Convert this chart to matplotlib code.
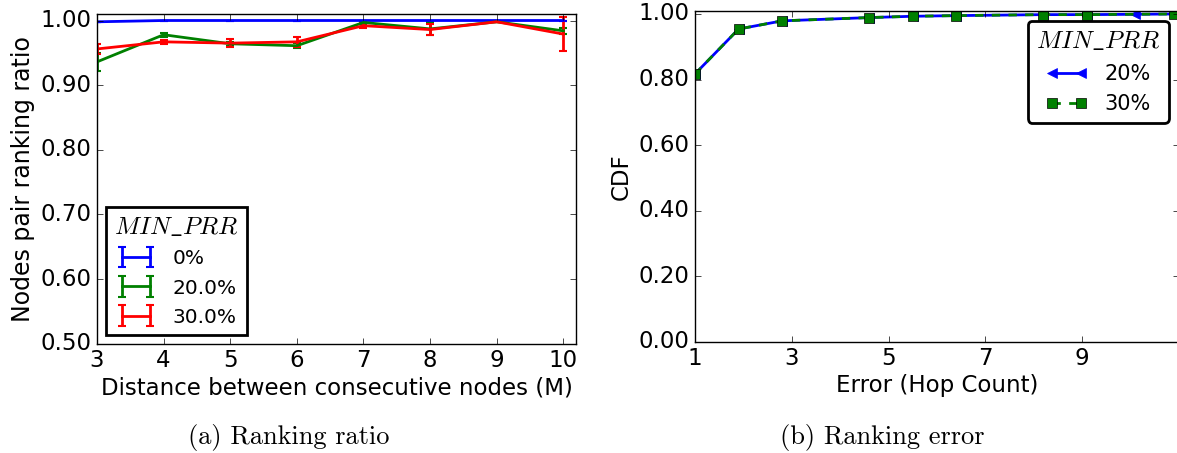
import matplotlib
matplotlib.use('Agg')
import matplotlib.pyplot as plt
import numpy as np

# donnees

# (a) ratio de classement
distance = [3, 4, 5, 6, 7, 8, 9, 10]
ratio_0 = [0.998, 1.0, 1.0, 1.0, 1.0, 1.0, 1.0, 1.0]
err_0 = [0.0, 0.0, 0.0, 0.0, 0.0, 0.0, 0.0, 0.0]
ratio_20 = [0.936, 0.978, 0.964, 0.961, 0.997, 0.987, 0.998, 0.984]
err_20 = [0.014, 0.003, 0.003, 0.004, 0.002, 0.010, 0.001, 0.005]
ratio_30 = [0.956, 0.967, 0.965, 0.967, 0.992, 0.986, 0.998, 0.979]
err_30 = [0.008, 0.003, 0.006, 0.008, 0.004, 0.008, 0.001, 0.026]
labels_a = ['0%', '20.0%', '30.0%']

# (b) erreur de classement (CDF)
hop_20 = [1.0, 1.9, 2.8, 4.6, 5.5, 6.4, 8.2, 9.1, 10.1, 10.9]
cdf_20 = [0.817, 0.954, 0.979, 0.989, 0.993, 0.995, 0.998, 0.998, 0.999, 1.0]
hop_30 = [1.0, 1.9, 2.8, 4.6, 5.5, 6.4, 8.2, 9.1, 10.9]
cdf_30 = [0.817, 0.954, 0.979, 0.989, 0.993, 0.995, 0.998, 0.998, 1.0]
labels_b = ['20%', '30%']

##

plt.style.use('classic')
plt.rcParams['mathtext.fontset'] = 'cm'
plt.rcParams['font.family'] = 'DejaVu Sans'

TAILLE = 16.5  # taille des textes des axes

fig = plt.figure(figsize=(11.77, 4.53), dpi=100, facecolor='white')

# partie (a)
ax1 = fig.add_axes([0.0824, 0.2413, 0.4070, 0.7277])
ax1.errorbar(distance, ratio_0, yerr=err_0, color='b', lw=2, capsize=3, mew=1.5, label=labels_a[0])
ax1.errorbar(distance, ratio_20, yerr=err_20, color='g', lw=2, capsize=3, mew=1.5, label=labels_a[1])
ax1.errorbar(distance, ratio_30, yerr=err_30, color='r', lw=2, capsize=3, mew=1.5, label=labels_a[2])
ax1.set_xlim(3, 10.19)
ax1.set_ylim(0.5, 1.01)
ax1.set_xticks(distance)
ax1.set_yticks(np.arange(0.5, 1.01, 0.1))
ax1.set_yticklabels(['%.2f' % v for v in np.arange(0.5, 1.01, 0.1)])
ax1.tick_params(labelsize=TAILLE)
ax1.set_xlabel('Distance between consecutive nodes (M)', fontsize=TAILLE, labelpad=3)
ax1.set_ylabel('Nodes pair ranking ratio', fontsize=TAILLE + 0.5, labelpad=4)
leg1 = ax1.legend(loc='lower left', title=r'$MIN\_PRR$', fontsize=14.5, numpoints=2,
                  fancybox=False, borderaxespad=0.45)
leg1.get_title().set_fontsize(18)
leg1.get_frame().set_linewidth(2)

# partie (b)
ax2 = fig.add_axes([0.5905, 0.2457, 0.4112, 0.7307])
ax2.plot(hop_20, cdf_20, color='b', lw=2, marker='<', ms=7, mfc='b', mec='b', label=labels_b[0])
ax2.plot(hop_30, cdf_30, color='g', lw=2, ls='--', marker='s', ms=7, mfc='g', mec='k', label=labels_b[1])
ax2.set_xlim(1, 11)
ax2.set_ylim(0, 1.01)
ax2.set_xticks([1, 3, 5, 7, 9])
ax2.set_yticks(np.arange(0, 1.01, 0.2))
ax2.set_yticklabels(['%.2f' % v for v in np.arange(0, 1.01, 0.2)])
ax2.tick_params(labelsize=TAILLE)
ax2.set_xlabel('Error (Hop Count)', fontsize=TAILLE, labelpad=3)
ax2.set_ylabel('CDF', fontsize=TAILLE, labelpad=4)
leg2 = ax2.legend(loc='upper right', title=r'$MIN\_PRR$', fontsize=15, numpoints=2,
                  fancybox=True, borderaxespad=0.5)
leg2.get_title().set_fontsize(18)
leg2.get_frame().set_linewidth(2)

# legendes sous-figures
fig.text(0.245, 0.02, '(a) Ranking ratio', fontsize=19, family='cmr10', ha='center', va='baseline')
fig.text(0.750, 0.02, '(b) Ranking error', fontsize=19, family='cmr10', ha='center', va='baseline')

fig.savefig('out.png', dpi=100, facecolor='white')
